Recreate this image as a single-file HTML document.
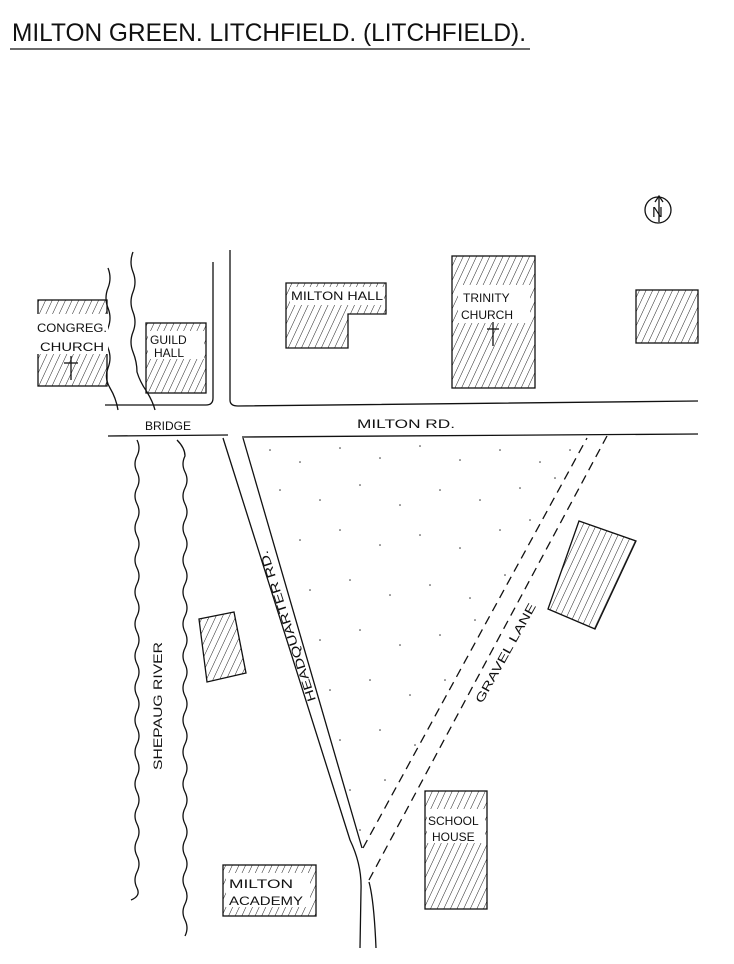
<!DOCTYPE html>
<html><head><meta charset="utf-8"><style>
html,body{margin:0;padding:0;background:#fff}
svg{display:block}
text{font-family:"Liberation Sans",sans-serif;fill:#111}
</style></head><body>
<svg width="734" height="964" viewBox="0 0 734 964" xmlns="http://www.w3.org/2000/svg">
<defs>
<pattern id="h" width="6" height="6" patternUnits="userSpaceOnUse" patternTransform="rotate(25)">
<line x1="0" y1="0" x2="0" y2="6" stroke="#222" stroke-width="1"/>
</pattern>
</defs>
<g stroke="#111" stroke-width="1.3" fill="none">
<line x1="10" y1="49" x2="530" y2="49"/>
<circle cx="658" cy="210" r="13"/>
<line x1="659" y1="222" x2="659" y2="197"/>
<path d="M655 202 L659 196 L663 202"/>
<path d="M213 262 L213 398 Q213 405 206 405 L105 405"/>
<path d="M230 250 L230 400 Q230 406 238 406 L698 401"/>
<path d="M108 436 L228 435"/>
<path d="M242 437 L698 434"/>
<path d="M108 268 q4 10 0 20 q-4 10 0 20 q4 10 0 20 q-4 10 0 20 q4 10 0 20 q-4 10 2 20 q6 10 8 22"/>
<path d="M133 252 q-4 10 0 20 q4 10 0 20 q-4 10 0 20 q4 10 0 20 q-4 10 0 20 q4 10 4 20 q3 10 10 20 q6 10 8 18"/>
<path d="M137 440 q4 8 0 16 q-4 8 0 16 q4 8 0 16 q-4 8 0 16 q4 8 0 16 q-4 8 0 16 q4 8 0 16 q-4 8 0 16 q4 8 0 16 q-4 8 0 16 q4 8 0 16 q-4 8 0 16 q4 8 0 16 q-4 8 0 16 q4 8 0 16 q-4 8 0 16 q4 8 0 16 q-4 8 0 16 q4 8 0 16 q-4 8 0 16 q4 8 0 16 q-4 8 0 16 q4 8 0 16 q-4 8 0 16 q4 8 0 16 q-4 8 0 16 q4 8 0 16 q-4 8 0 16 q4 8 -6 12"/>
<path d="M177 440 q8 8 8 16 q-4 8 0 16 q4 8 0 16 q-4 8 0 16 q4 8 0 16 q-4 8 0 16 q4 8 0 16 q-4 8 0 16 q4 8 0 16 q-4 8 0 16 q4 8 0 16 q-4 8 0 16 q4 8 0 16 q-4 8 0 16 q4 8 0 16 q-4 8 0 16 q4 8 0 16 q-4 8 0 16 q4 8 0 16 q-4 8 0 16 q4 8 0 16 q-4 8 0 16 q4 8 0 16 q-4 8 0 16 q4 8 0 16 q-4 8 0 16 q4 8 0 16 q-4 8 0 16 q4 8 0 16 q-4 8 0 16 q4 8 0 16"/>
<path d="M223 438 L350 840 Q362 865 361 890 L360 948"/>
<path d="M243 438 L362 848"/>
<path d="M369 882 Q374 900 376 948"/>
<g stroke-dasharray="9 6">
<path d="M363 848 L587 438"/>
<path d="M369 880 L607 436"/>
</g>
</g>
<g fill="#333">
<circle cx="270" cy="450" r=".8"/><circle cx="300" cy="462" r=".8"/><circle cx="340" cy="448" r=".8"/><circle cx="380" cy="458" r=".8"/><circle cx="420" cy="446" r=".8"/><circle cx="460" cy="460" r=".8"/><circle cx="500" cy="450" r=".8"/><circle cx="540" cy="462" r=".8"/><circle cx="570" cy="450" r=".8"/>
<circle cx="280" cy="490" r=".8"/><circle cx="320" cy="500" r=".8"/><circle cx="360" cy="485" r=".8"/><circle cx="400" cy="505" r=".8"/><circle cx="440" cy="490" r=".8"/><circle cx="480" cy="500" r=".8"/><circle cx="520" cy="488" r=".8"/><circle cx="555" cy="478" r=".8"/>
<circle cx="300" cy="540" r=".8"/><circle cx="340" cy="530" r=".8"/><circle cx="380" cy="545" r=".8"/><circle cx="420" cy="535" r=".8"/><circle cx="460" cy="548" r=".8"/><circle cx="500" cy="530" r=".8"/><circle cx="530" cy="520" r=".8"/>
<circle cx="310" cy="590" r=".8"/><circle cx="350" cy="580" r=".8"/><circle cx="390" cy="595" r=".8"/><circle cx="430" cy="585" r=".8"/><circle cx="470" cy="598" r=".8"/><circle cx="505" cy="575" r=".8"/>
<circle cx="320" cy="640" r=".8"/><circle cx="360" cy="630" r=".8"/><circle cx="400" cy="645" r=".8"/><circle cx="440" cy="635" r=".8"/><circle cx="475" cy="620" r=".8"/>
<circle cx="330" cy="690" r=".8"/><circle cx="370" cy="680" r=".8"/><circle cx="410" cy="695" r=".8"/><circle cx="445" cy="680" r=".8"/>
<circle cx="340" cy="740" r=".8"/><circle cx="380" cy="730" r=".8"/><circle cx="415" cy="745" r=".8"/>
<circle cx="350" cy="790" r=".8"/><circle cx="385" cy="780" r=".8"/><circle cx="360" cy="830" r=".8"/>
</g>
<g stroke="#111" stroke-width="1.3" fill="url(#h)">
<rect x="38" y="300" width="69" height="86"/>
<rect x="146" y="323" width="60" height="70"/>
<path d="M286 283 L386 283 L386 314 L348 314 L348 348 L286 348 Z"/>
<rect x="452" y="256" width="83" height="132"/>
<rect x="636" y="290" width="62" height="53"/>
<path d="M199 619 L234 612 L246 673 L207 682 Z"/>
<path d="M579 521 L636 541 L595 629 L548 609 Z"/>
<rect x="425" y="791" width="62" height="118"/>
<rect x="223" y="865" width="93" height="51"/>
</g>
<g fill="#fff">
<rect x="36" y="314" width="72" height="40"/>
<rect x="148" y="331" width="56" height="28"/>
<rect x="290" y="287" width="94" height="18"/>
<rect x="458" y="285" width="72" height="38"/>
<rect x="427" y="809" width="58" height="34"/>
<rect x="226" y="873" width="84" height="34"/>
</g>
<g stroke="#111" stroke-width="1.3">
<line x1="71" y1="356" x2="71" y2="380"/><line x1="64" y1="363" x2="78" y2="363"/>
<line x1="493" y1="322" x2="493" y2="346"/><line x1="487" y1="329" x2="499" y2="329"/>
</g>
<text x="12" y="41" font-size="25" textLength="514" lengthAdjust="spacingAndGlyphs">MILTON GREEN. LITCHFIELD. (LITCHFIELD).</text>
<text x="652" y="217" font-size="15">N</text>
<g font-size="12">
<text x="37" y="332" textLength="70" lengthAdjust="spacingAndGlyphs">CONGREG.</text>
<text x="40" y="351" textLength="64" lengthAdjust="spacingAndGlyphs">CHURCH</text>
<text x="150" y="344">GUILD</text>
<text x="154" y="357">HALL</text>
<text x="291" y="300" textLength="92" lengthAdjust="spacingAndGlyphs">MILTON HALL</text>
<text x="463" y="302">TRINITY</text>
<text x="461" y="319">CHURCH</text>
<text x="145" y="430">BRIDGE</text>
<text x="357" y="428" textLength="98" lengthAdjust="spacingAndGlyphs">MILTON RD.</text>
<text x="428" y="825">SCHOOL</text>
<text x="432" y="841">HOUSE</text>
<text x="229" y="888" textLength="64" lengthAdjust="spacingAndGlyphs">MILTON</text>
<text x="229" y="905" textLength="74" lengthAdjust="spacingAndGlyphs">ACADEMY</text>
<text transform="translate(162,770) rotate(-90)" textLength="128" lengthAdjust="spacingAndGlyphs">SHEPAUG RIVER</text>
<text transform="translate(316,700) rotate(-108)" textLength="158" lengthAdjust="spacingAndGlyphs">HEADQUARTER RD.</text>
<text transform="translate(482,704) rotate(-61)" textLength="112" lengthAdjust="spacingAndGlyphs">GRAVEL LANE</text>
</g>
</svg>
</body></html>
